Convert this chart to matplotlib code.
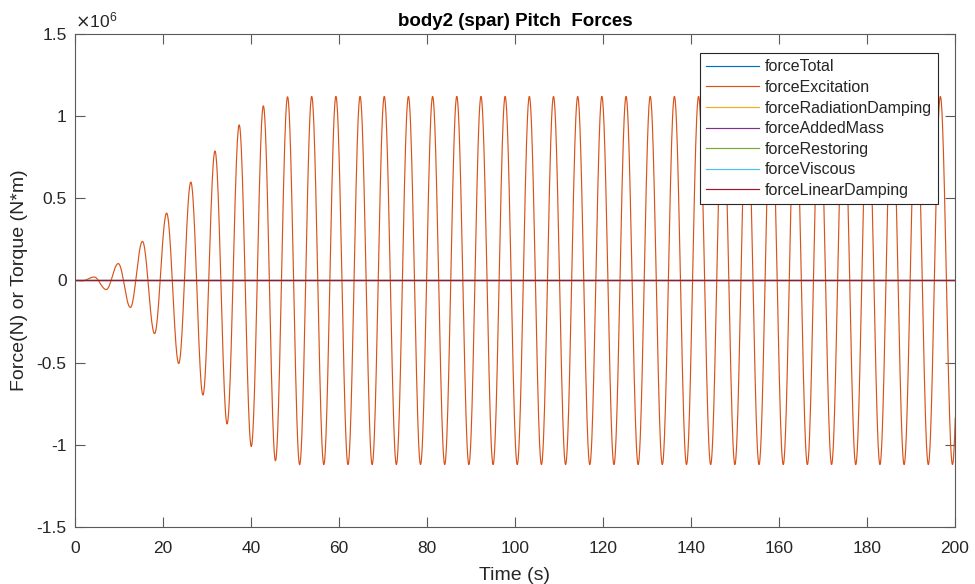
import numpy as np
import matplotlib
matplotlib.use("Agg")
import matplotlib.pyplot as plt
from matplotlib.ticker import FuncFormatter

plt.rcParams["font.family"] = ["Liberation Sans", "DejaVu Sans"]
plt.rcParams["axes.unicode_minus"] = False

# Turning points of the pitch excitation moment (time in s, value in 1e6 N*m)
extrema_time = [0.00, 1.60, 4.35, 7.10, 9.84, 12.59, 15.34, 18.09, 20.83, 23.58,
                26.33, 29.08, 31.82, 34.57, 37.32, 40.07, 42.81, 45.56, 48.31,
                51.06, 53.80, 56.55, 59.30, 62.05, 64.79, 67.54, 70.29, 73.04,
                75.78, 78.53, 81.28, 84.03, 86.77, 89.52, 92.27, 95.02, 97.76,
                100.51, 103.26, 106.01, 108.75, 111.50, 114.25, 117.00, 119.74,
                122.49, 125.24, 127.99, 130.73, 133.48, 136.23, 138.98, 141.72,
                144.47, 147.22, 149.97, 152.71, 155.46, 158.21, 160.96, 163.70,
                166.45, 169.20, 171.95, 174.69, 177.44, 180.19, 182.94, 185.68,
                188.43, 191.18, 193.93, 196.67, 199.42, 202.17]
extrema_value = [0.000, -0.002, 0.021, -0.055, 0.103, -0.164, 0.238, -0.323, 0.410,
                 -0.505, 0.599, -0.697, 0.788, -0.873, 0.947, -1.010, 1.063, -1.097,
                 1.118, -1.121, 1.120, -1.120, 1.120, -1.120, 1.120, -1.120, 1.120,
                 -1.120, 1.120, -1.120, 1.120, -1.120, 1.120, -1.120, 1.120, -1.120,
                 1.120, -1.120, 1.120, -1.120, 1.120, -1.120, 1.120, -1.120, 1.120,
                 -1.120, 1.120, -1.120, 1.120, -1.120, 1.120, -1.120, 1.120, -1.120,
                 1.120, -1.120, 1.120, -1.120, 1.120, -1.120, 1.120, -1.120, 1.120,
                 -1.120, 1.120, -1.120, 1.120, -1.120, 1.120, -1.120, 1.120, -1.120,
                 1.120, -1.120, 1.120]

series_names = ["forceTotal", "forceExcitation", "forceRadiationDamping",
                "forceAddedMass", "forceRestoring", "forceViscous",
                "forceLinearDamping"]
series_colors = ["#0072BD", "#D95319", "#EDB120", "#7E2F8E", "#77AC30",
                 "#4DBEEE", "#A2142F"]

x_ticks = [0, 20, 40, 60, 80, 100, 120, 140, 160, 180, 200]
y_ticks = [-1.5, -1, -0.5, 0, 0.5, 1, 1.5]

# Smooth half-cosine segments between consecutive turning points
t_parts, f_parts = [], []
s = np.linspace(0.0, 1.0, 40)
for i in range(len(extrema_time) - 1):
    t0, t1 = extrema_time[i], extrema_time[i + 1]
    v0, v1 = extrema_value[i], extrema_value[i + 1]
    t_parts.append(t0 + (t1 - t0) * s[:-1])
    f_parts.append(v0 + (v1 - v0) * (1 - np.cos(np.pi * s[:-1])) / 2)
t_parts.append([extrema_time[-1]])
f_parts.append([extrema_value[-1]])
time = np.concatenate(t_parts)
excitation = np.concatenate(f_parts) * 1e6

# Every other logged component stays at zero over the run
zero = np.zeros_like(time)
series = {
    "forceTotal": zero,
    "forceExcitation": excitation,
    "forceRadiationDamping": zero,
    "forceAddedMass": zero,
    "forceRestoring": zero,
    "forceViscous": zero,
    "forceLinearDamping": zero,
}

fig = plt.figure(figsize=(9.75, 5.84), dpi=100)
ax = fig.add_axes([0.0769, 0.0976, 0.9026, 0.8442])

for name, color in zip(series_names, series_colors):
    ax.plot(time, series[name], color=color, lw=0.85, label=name)

ax.set_xlim(0, 200)
ax.set_ylim(-1.5e6, 1.5e6)
ax.set_xticks(x_ticks)
ax.set_yticks([v * 1e6 for v in y_ticks])
ax.yaxis.set_major_formatter(FuncFormatter(lambda v, p: f"{v / 1e6:g}"))

axis_color = "#5a5a5a"
for sp in ax.spines.values():
    sp.set_color(axis_color)
    sp.set_linewidth(0.8)
ax.tick_params(direction="in", length=7, width=0.8, color=axis_color,
               labelsize=12.5, labelcolor="#262626", top=True, right=True)
ax.tick_params(axis="x", pad=10)
ax.tick_params(axis="y", pad=6)

ax.text(0.0, 1.008, r"$\times\mathregular{10^{6}}$", transform=ax.transAxes,
        fontsize=12.5, color="#262626", ha="left", va="bottom")

ax.set_title("body2 (spar) Pitch  Forces", fontsize=13.5, fontweight="bold",
             color="black", pad=6)
ax.set_xlabel("Time (s)", fontsize=14, color="#262626", labelpad=8)
ax.set_ylabel("Force(N) or Torque (N*m)", fontsize=14, color="#262626",
              labelpad=6)

leg = ax.legend(loc="upper right", bbox_to_anchor=(0.9807, 0.9615),
                borderaxespad=0, fontsize=11.5, handlelength=3.3,
                handletextpad=0.35, labelspacing=0.35, borderpad=0.4,
                fancybox=False, framealpha=1, edgecolor="#262626")
leg.get_frame().set_linewidth(0.8)
for txt in leg.get_texts():
    txt.set_color("#262626")

fig.savefig("out.png", dpi=100)
